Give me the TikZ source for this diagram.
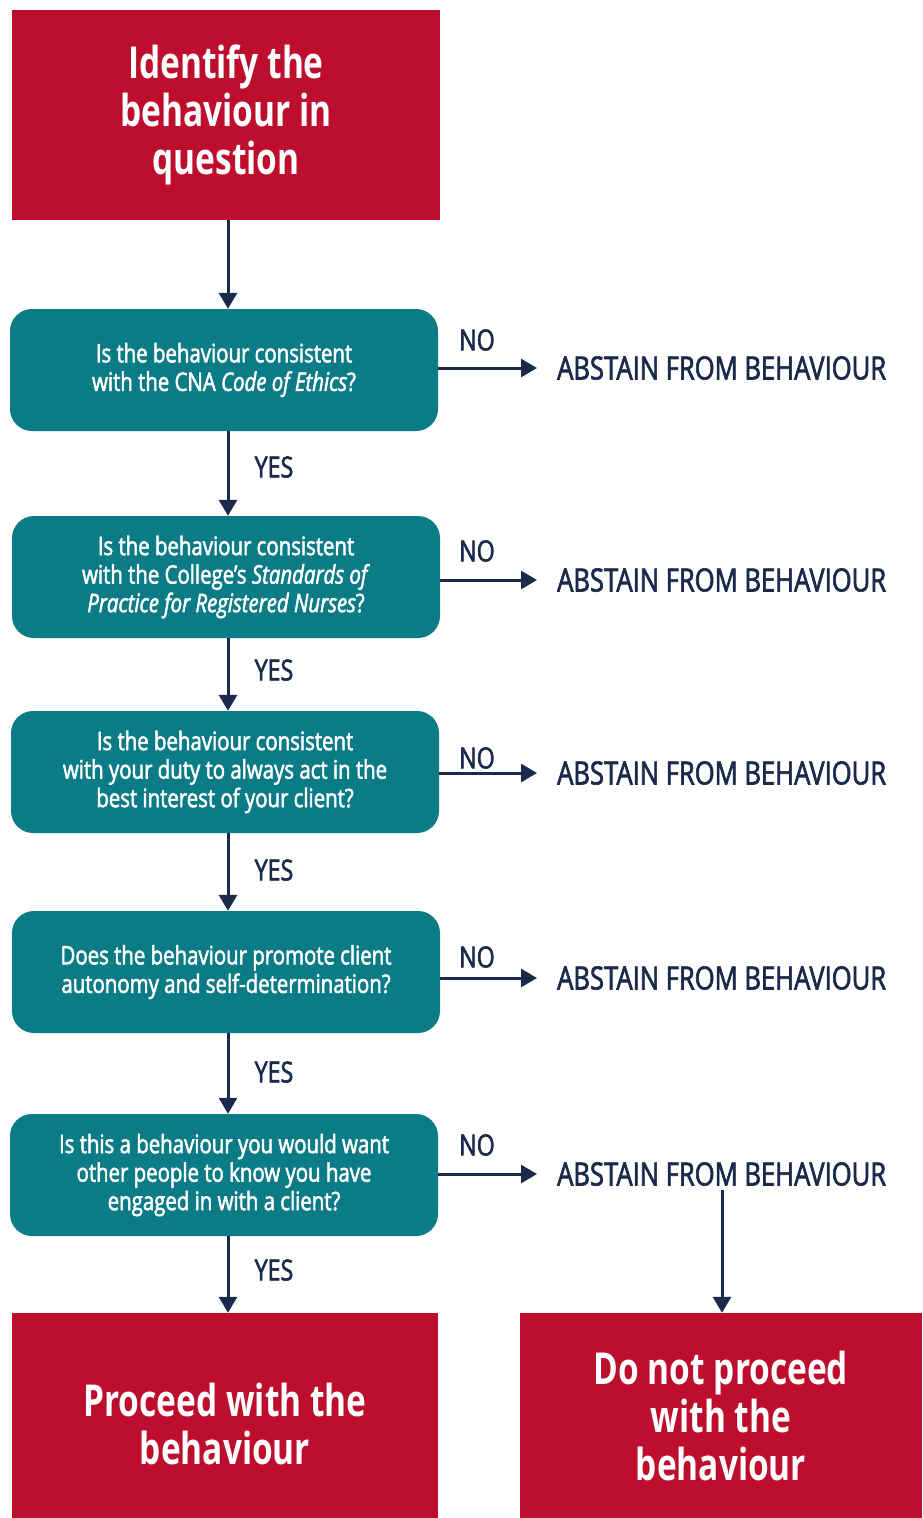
\documentclass[tikz,border=0pt]{standalone}
\usepackage{fontspec}
\setmainfont{Open Sans}[FakeStretch=0.8]
\newfontfamily\medfont{Open Sans}[FakeStretch=0.8, FakeBold=2]
\newfontfamily\headfont{Open Sans}[FakeStretch=0.76]
\usetikzlibrary{arrows.meta}
\definecolor{cred}{HTML}{BE0E2E}
\definecolor{cteal}{HTML}{0B7B86}
\definecolor{cnavy}{HTML}{1A2A4A}
\begin{document}
\begin{tikzpicture}[x=1pt,y=-1pt,
 redbox/.style={fill=cred, text=white, font=\headfont\bfseries\fontsize{44}{48}\selectfont, align=center, inner sep=0pt},
 headtext/.style={text=white, font=\headfont\bfseries\fontsize{44}{48}\selectfont, align=center, inner sep=0pt},
 qbox/.style={fill=cteal, rounded corners=22pt, text=white, font=\medfont\fontsize{25.5}{28.5}\selectfont, align=center, minimum width=428pt, minimum height=122pt, inner sep=0pt},
 abst/.style={text=cnavy, font=\medfont\fontsize{32}{34}\selectfont, inner xsep=20pt, inner ysep=0pt},
 lbl/.style={text=cnavy, font=\medfont\fontsize{29}{31}\selectfont, inner sep=0pt},
 conn/.style={draw=cnavy, line width=3pt, -{Triangle[length=16pt,width=18pt]}}]
\useasboundingbox (0,0) rectangle (922,1518);
\fill[white] (0,0) rectangle (922,1518);
% top box
\node[redbox, minimum width=428pt, minimum height=210pt] (top) at (226,115) {Identify the\\behaviour in\\question};
% question boxes
\node[qbox] (q1) at (224,370) {Is the behaviour consistent\\with the CNA \textit{Code of Ethics}?};
\node[qbox] (q2) at (226,577) {Is the behaviour consistent\\with the College’s \textit{Standards of}\\\textit{Practice for Registered Nurses}?};
\node[qbox] (q3) at (225,772) {Is the behaviour consistent\\with your duty to always act in the\\best interest of your client?};
\node[qbox] (q4) at (226,972) {Does the behaviour promote client\\autonomy and self-determination?};
\node[qbox] (q5) at (224,1175) {Is this a behaviour you would want\\other people to know you have\\engaged in with a client?};
% bottom boxes
\node[redbox, minimum width=426pt, minimum height=205pt] (go) at (225,1415.5) {};
\node[headtext] (gotext) at (225,1424) {Proceed with the\\behaviour};
\node[redbox, minimum width=402pt, minimum height=205pt] (dn) at (721,1415.5) {Do not proceed\\with the\\behaviour};
% abstain nodes
\node[abst, anchor=west] (ab1) at (537,368) {ABSTAIN FROM BEHAVIOUR};
\node[abst, anchor=west] (ab2) at (537,580) {ABSTAIN FROM BEHAVIOUR};
\node[abst, anchor=west] (ab3) at (537,773) {ABSTAIN FROM BEHAVIOUR};
\node[abst, anchor=west] (ab4) at (537,978) {ABSTAIN FROM BEHAVIOUR};
\node[abst, anchor=west] (ab5) at (537,1174) {ABSTAIN FROM BEHAVIOUR};
% NO labels
\node[lbl] (n1) at (477,340) {NO};
\node[lbl] (n2) at (477,551) {NO};
\node[lbl] (n3) at (477,758) {NO};
\node[lbl] (n4) at (477,957) {NO};
\node[lbl] (n5) at (477,1145) {NO};
% YES labels
\node[lbl] (y1) at (274,467) {YES};
\node[lbl] (y2) at (274,670) {YES};
\node[lbl] (y3) at (274,870) {YES};
\node[lbl] (y4) at (274,1072) {YES};
\node[lbl] (y5) at (274,1270) {YES};
% vertical connectors
\draw[conn] (top.south -| 228,0) -- (q1.north -| 228,0);
\draw[conn] (q1.south -| 228,0) -- (q2.north -| 228,0);
\draw[conn] (q2.south -| 228,0) -- (q3.north -| 228,0);
\draw[conn] (q3.south -| 228,0) -- (q4.north -| 228,0);
\draw[conn] (q4.south -| 228,0) -- (q5.north -| 228,0);
\draw[conn] (q5.south -| 228,0) -- (go.north -| 228,0);
% NO connectors
\draw[conn] (q1.east |- ab1.west) -- (ab1.west);
\draw[conn] (q2.east |- ab2.west) -- (ab2.west);
\draw[conn] (q3.east |- ab3.west) -- (ab3.west);
\draw[conn] (q4.east |- ab4.west) -- (ab4.west);
\draw[conn] (q5.east |- ab5.west) -- (ab5.west);
\draw[conn, shorten <=4pt] (ab5.south -| 722,0) -- (dn.north -| 722,0);
\end{tikzpicture}
\end{document}
